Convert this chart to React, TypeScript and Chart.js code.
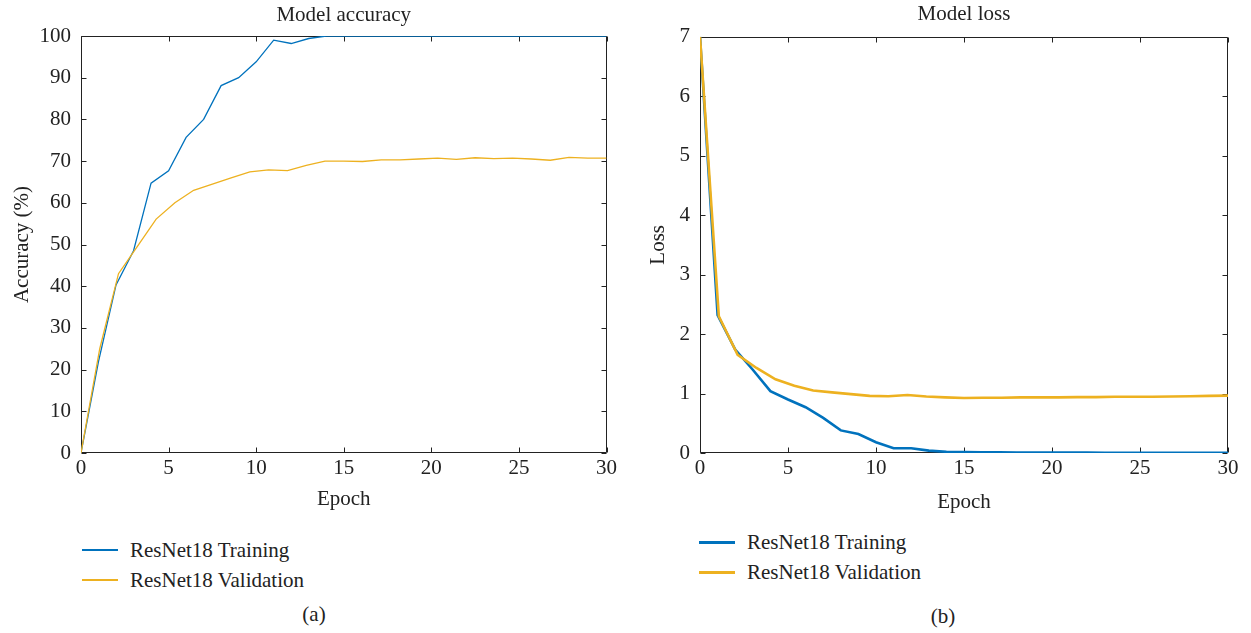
import React, { useEffect, useRef } from "react";
import { Chart, registerables } from "chart.js";

Chart.register(...registerables);

// ---------- Data ----------
const trainEpochs = [0, 1, 2, 3, 4, 5, 6, 7, 8, 9, 10, 11, 12, 13, 14, 15, 16, 17, 18, 19, 20, 21, 22, 23, 24, 25, 26, 27, 28, 29, 30];
const valEpochs = [0, 1.07, 2.14, 3.21, 4.29, 5.36, 6.43, 7.5, 8.57, 9.64, 10.71, 11.79, 12.86, 13.93, 15, 16.07, 17.14, 18.21, 19.29, 20.36, 21.43, 22.5, 23.57, 24.64, 25.71, 26.79, 27.86, 28.93, 30];

const trainAccuracy = [0, 22, 40.3, 48.5, 64.7, 67.7, 75.7, 80, 88.1, 90, 93.8, 99, 98.2, 99.4, 100, 100, 100, 100, 100, 100, 100, 100, 100, 100, 100, 100, 100, 100, 100, 100, 100];
const valAccuracy = [0, 25, 43, 49.5, 56.1, 60, 63, 64.5, 66, 67.4, 67.9, 67.7, 69, 70, 70, 69.9, 70.3, 70.3, 70.5, 70.7, 70.4, 70.8, 70.6, 70.7, 70.5, 70.2, 70.9, 70.7, 70.7];

const trainLoss = [7, 2.32, 1.74, 1.4, 1.04, 0.9, 0.77, 0.59, 0.38, 0.32, 0.18, 0.08, 0.08, 0.04, 0.02, 0.015, 0.012, 0.01, 0.008, 0.008, 0.007, 0.006, 0.006, 0.005, 0.005, 0.005, 0.004, 0.004, 0.004, 0.004, 0.004];
const valLoss = [7, 2.3, 1.65, 1.43, 1.24, 1.13, 1.05, 1.02, 0.99, 0.96, 0.955, 0.975, 0.95, 0.935, 0.925, 0.93, 0.93, 0.935, 0.935, 0.935, 0.94, 0.94, 0.945, 0.945, 0.945, 0.95, 0.955, 0.96, 0.965];

const seriesNames = ["ResNet18 Training", "ResNet18 Validation"];
const panelTitles = ["Model accuracy", "Model loss"];
const yTitles = ["Accuracy (%)", "Loss"];
const xTitle = "Epoch";
const captions = ["(a)", "(b)"];

// ---------- Styles ----------
const BLUE = "#0072BD";
const YELLOW = "#EDB120";
const AXIS = "#222222";
const FONT = "'Liberation Serif', 'DejaVu Serif', serif";
const FS = 21;

Chart.defaults.font.family = FONT;
Chart.defaults.color = AXIS;

const boxPlugin = {
  id: "matlabBox",
  beforeDatasetsDraw(chart: any) {
    const { ctx, chartArea, scales } = chart;
    const { left, right, top, bottom } = chartArea;
    const L = 5;
    ctx.save();
    ctx.strokeStyle = AXIS;
    ctx.lineWidth = 1;
    const l = Math.round(left) + 0.5;
    const r = Math.round(right) - 0.5;
    const t = Math.round(top) + 0.5;
    const b = Math.round(bottom) - 0.5;
    ctx.beginPath();
    ctx.rect(l, t, r - l, b - t);
    scales.x.ticks.forEach((tk: any) => {
      const px = Math.round(scales.x.getPixelForValue(tk.value)) + 0.5;
      ctx.moveTo(px, b);
      ctx.lineTo(px, b - L);
      ctx.moveTo(px, t);
      ctx.lineTo(px, t + L);
    });
    scales.y.ticks.forEach((tk: any) => {
      const py = Math.round(scales.y.getPixelForValue(tk.value)) + 0.5;
      ctx.moveTo(l, py);
      ctx.lineTo(l + L, py);
      ctx.moveTo(r, py);
      ctx.lineTo(r - L, py);
    });
    ctx.stroke();
    ctx.restore();
  },
};

type PanelOpts = {
  title: string;
  yTitle: string;
  yMax: number;
  yStep: number;
  lineWidth: number;
  trainY: number[];
  valY: number[];
  yAxisWidth: number;
  yTitlePad: number;
  xTitlePad: number;
  titlePadTop: number;
  titlePadBottom: number;
  rightPad: number;
};

function makeConfig(o: PanelOpts): any {
  return {
    type: "line",
    data: {
      datasets: [
        {
          label: seriesNames[0],
          data: trainEpochs.map((x, i) => ({ x, y: o.trainY[i] })),
          borderColor: BLUE,
          backgroundColor: BLUE,
          borderWidth: o.lineWidth,
          pointRadius: 0,
          tension: 0,
          order: 2,
        },
        {
          label: seriesNames[1],
          data: valEpochs.map((x, i) => ({ x, y: o.valY[i] })),
          borderColor: YELLOW,
          backgroundColor: YELLOW,
          borderWidth: o.lineWidth,
          pointRadius: 0,
          tension: 0,
          order: 1,
        },
      ],
    },
    options: {
      responsive: false,
      animation: false,
      events: [],
      layout: { padding: { left: 0, right: o.rightPad, top: 0, bottom: 0 } },
      plugins: {
        legend: { display: false },
        tooltip: { enabled: false },
        title: {
          display: true,
          text: o.title,
          fullSize: false,
          color: AXIS,
          font: { family: FONT, size: FS, weight: "normal" },
          padding: { top: o.titlePadTop, bottom: o.titlePadBottom },
        },
      },
      scales: {
        x: {
          type: "linear",
          min: 0,
          max: 30,
          grid: { display: false, drawTicks: false },
          border: { display: false },
          ticks: { stepSize: 5, padding: 3, color: AXIS, font: { family: FONT, size: FS }, maxRotation: 0 },
          title: {
            display: true,
            text: xTitle,
            color: AXIS,
            font: { family: FONT, size: FS },
            padding: { top: 0, bottom: o.xTitlePad },
          },
          afterFit: (s: any) => {
            s.height = 67;
          },
        },
        y: {
          type: "linear",
          min: 0,
          max: o.yMax,
          grid: { display: false, drawTicks: false },
          border: { display: false },
          ticks: { stepSize: o.yStep, padding: 10, color: AXIS, font: { family: FONT, size: FS } },
          title: {
            display: true,
            text: o.yTitle,
            color: AXIS,
            font: { family: FONT, size: FS },
            padding: { top: o.yTitlePad, bottom: 0 },
          },
          afterFit: (s: any) => {
            s.width = o.yAxisWidth;
          },
        },
      },
    },
    plugins: [boxPlugin],
  };
}

function Legend({ left, top, lineWidth }: { left: number; top: number; lineWidth: number }) {
  const colors = [BLUE, YELLOW];
  return (
    <div style={{ position: "absolute", left, top, fontFamily: FONT, fontSize: FS, color: AXIS }}>
      {seriesNames.map((n, i) => (
        <div key={n} style={{ display: "flex", alignItems: "center", height: 30 }}>
          <div style={{ width: 36, height: lineWidth, background: colors[i], marginRight: 12 }} />
          <span style={{ lineHeight: "30px", whiteSpace: "nowrap" }}>{n}</span>
        </div>
      ))}
    </div>
  );
}

export default function App() {
  const leftRef = useRef<HTMLCanvasElement>(null);
  const rightRef = useRef<HTMLCanvasElement>(null);

  useEffect(() => {
    const c1 = new Chart(
      leftRef.current!,
      makeConfig({
        title: panelTitles[0],
        yTitle: yTitles[0],
        yMax: 100,
        yStep: 10,
        lineWidth: 1.3,
        trainY: trainAccuracy,
        valY: valAccuracy,
        yAxisWidth: 81,
        yTitlePad: 9.4,
        xTitlePad: 8.4,
        titlePadTop: 2.4,
        titlePadBottom: 8.4,
        rightPad: 10,
      })
    );
    const c2 = new Chart(
      rightRef.current!,
      makeConfig({
        title: panelTitles[1],
        yTitle: yTitles[1],
        yMax: 7,
        yStep: 1,
        lineWidth: 2.6,
        trainY: trainLoss,
        valY: valLoss,
        yAxisWidth: 80,
        yTitlePad: 25.4,
        xTitlePad: 5.4,
        titlePadTop: 1.4,
        titlePadBottom: 10.1,
        rightPad: 23,
      })
    );
    return () => {
      c1.destroy();
      c2.destroy();
    };
  }, []);

  return (
    <div style={{ position: "absolute", left: 0, top: 0, width: 1251, height: 633, background: "#fff", overflow: "hidden" }}>
      <canvas ref={leftRef} width={620} height={520} style={{ position: "absolute", left: 0, top: 0 }} />
      <canvas ref={rightRef} width={631} height={520} style={{ position: "absolute", left: 620, top: 0 }} />
      <Legend left={82} top={535} lineWidth={1.5} />
      <Legend left={699} top={527} lineWidth={3} />
      <div style={{ position: "absolute", left: 294, top: 602, width: 40, textAlign: "center", fontFamily: FONT, fontSize: FS, color: AXIS }}>{captions[0]}</div>
      <div style={{ position: "absolute", left: 923, top: 604, width: 40, textAlign: "center", fontFamily: FONT, fontSize: FS, color: AXIS }}>{captions[1]}</div>
    </div>
  );
}
